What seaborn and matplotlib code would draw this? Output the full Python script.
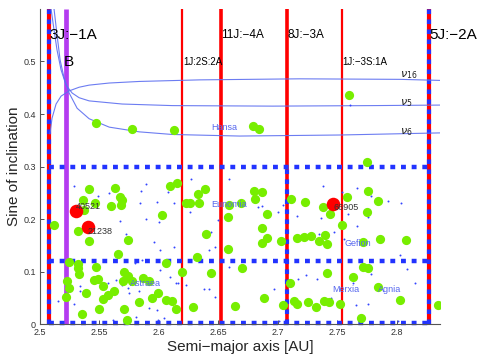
import numpy as np
import pandas as pd
import matplotlib
matplotlib.use("Agg")
import matplotlib.pyplot as plt
import seaborn as sns

sns.set_theme(style="white")
plt.rcParams['font.family'] = ['Liberation Sans', 'DejaVu Sans']

# mean motion resonances (semi-major axis, AU)
res_names = ['3J:−1A', 'B', '1J:2S:2A', '11J:−4A', '8J:−3A', '1J:−3S:1A', '5J:−2A']
res_a = [2.5073, 2.5222, 2.6197, 2.6518, 2.7077, 2.7538, 2.8272]

# sine of inclination cuts of the boxes
sini_cuts = [0.0, 0.12, 0.3]

# secular resonances
nu16_a = [2.5084, 2.5101, 2.5135, 2.5177, 2.5245, 2.5329, 2.5413, 2.5582, 2.5835, 2.6341, 2.7184, 2.8027, 2.8364]
nu16_s = [0.362, 0.392, 0.419, 0.434, 0.444, 0.451, 0.455, 0.459, 0.462, 0.465, 0.467, 0.466, 0.464]
nu5_a = [2.5093, 2.5118, 2.5143, 2.5177, 2.5219, 2.5270, 2.5329, 2.5413, 2.5691, 2.6113, 2.6956, 2.7799, 2.8364]
nu5_s = [0.600, 0.560, 0.522, 0.484, 0.455, 0.440, 0.431, 0.425, 0.419, 0.416, 0.415, 0.416, 0.417]
nu6_a = [2.5118, 2.5143, 2.5169, 2.5202, 2.5245, 2.5312, 2.5413, 2.5582, 2.5835, 2.6113, 2.6678, 2.7521, 2.8364]
nu6_s = [0.600, 0.551, 0.503, 0.469, 0.440, 0.411, 0.391, 0.375, 0.366, 0.361, 0.358, 0.360, 0.364]

# family members (green)
green_a = [2.547, 2.577, 2.613, 2.679, 2.684, 2.760, 2.775,
           2.512, 2.541, 2.563, 2.536, 2.546, 2.567, 2.569, 2.560, 2.568, 2.537, 2.532, 2.541, 2.574,
           2.603, 2.609, 2.615, 2.566, 2.639, 2.633, 2.634, 2.623, 2.626, 2.680, 2.687, 2.681, 2.659,
           2.669, 2.658, 2.691, 2.687, 2.640, 2.711, 2.723, 2.691, 2.687, 2.703, 2.716, 2.722, 2.728,
           2.658, 2.632, 2.738, 2.744, 2.758, 2.754, 2.776, 2.784, 2.775, 2.735, 2.741, 2.740, 2.772,
           2.786, 2.808,
           2.524, 2.532, 2.532, 2.547, 2.533, 2.571, 2.574, 2.545, 2.549, 2.553, 2.570, 2.577, 2.587,
           2.592, 2.606, 2.599, 2.594, 2.583, 2.606, 2.611, 2.614, 2.5225, 2.524, 2.522, 2.539, 2.562,
           2.557, 2.553, 2.550, 2.535, 2.571, 2.573, 2.619, 2.644, 2.670, 2.710, 2.688, 2.704, 2.714,
           2.716, 2.725, 2.629, 2.664, 2.741, 2.772, 2.776, 2.763, 2.784, 2.803, 2.732, 2.739, 2.743,
           2.752, 2.770, 2.835]
green_sini = [0.383, 0.372, 0.370, 0.378, 0.372, 0.437, 0.309,
              0.189, 0.258, 0.260, 0.236, 0.230, 0.241, 0.236, 0.225, 0.227, 0.217, 0.177, 0.159, 0.160,
              0.208, 0.263, 0.269, 0.133, 0.257, 0.247, 0.231, 0.231, 0.230, 0.254, 0.252, 0.238, 0.227,
              0.230, 0.203, 0.209, 0.182, 0.171, 0.239, 0.233, 0.164, 0.154, 0.159, 0.163, 0.165, 0.167,
              0.142, 0.128, 0.222, 0.209, 0.242, 0.189, 0.254, 0.235, 0.213, 0.158, 0.153, 0.169, 0.157,
              0.161, 0.160,
              0.118, 0.114, 0.106, 0.109, 0.095, 0.100, 0.091, 0.084, 0.085, 0.073, 0.081, 0.082, 0.087,
              0.081, 0.116, 0.060, 0.049, 0.042, 0.046, 0.044, 0.028, 0.081, 0.069, 0.051, 0.060, 0.063,
              0.055, 0.047, 0.028, 0.020, 0.028, 0.008, 0.100, 0.097, 0.106, 0.079, 0.049, 0.036, 0.044,
              0.038, 0.042, 0.032, 0.034, 0.098, 0.108, 0.106, 0.089, 0.070, 0.046, 0.033, 0.044, 0.041,
              0.039, 0.012, 0.036]

# background asteroids (small blue dots)
bg_a = [2.529, 2.549, 2.558, 2.589, 2.585, 2.584, 2.598, 2.613, 2.608, 2.589, 2.567, 2.600, 2.572,
        2.596, 2.613, 2.627, 2.659, 2.626, 2.650, 2.644, 2.647, 2.683, 2.687, 2.700, 2.704, 2.716,
        2.738, 2.754, 2.767, 2.778, 2.793, 2.804, 2.736, 2.767, 2.776, 2.747, 2.735, 2.756, 2.759,
        2.803, 2.809, 2.815, 2.724, 2.733, 2.717, 2.697, 2.763, 2.778, 2.745, 2.766, 2.776, 2.801,
        2.601, 2.586, 2.580, 2.601, 2.569, 2.574, 2.575, 2.583, 2.557, 2.560, 2.534, 2.534, 2.515,
        2.558, 2.529, 2.581, 2.599, 2.561, 2.592, 2.609, 2.614, 2.604, 2.659, 2.616, 2.623, 2.638,
        2.642, 2.647, 2.701, 2.564, 2.598, 2.642, 2.761]
bg_sini = [0.262, 0.244, 0.249, 0.267, 0.254, 0.231, 0.232, 0.231, 0.252, 0.200, 0.196, 0.195, 0.171,
           0.157, 0.146, 0.276, 0.276, 0.214, 0.198, 0.175, 0.147, 0.222, 0.225, 0.214, 0.227, 0.206,
           0.263, 0.252, 0.259, 0.243, 0.234, 0.231, 0.201, 0.187, 0.203, 0.176, 0.171, 0.161, 0.210,
           0.131, 0.104, 0.078, 0.093, 0.086, 0.086, 0.067, 0.078, 0.095, 0.049, 0.036, 0.038, 0.006,
           0.141, 0.121, 0.116, 0.103, 0.074, 0.069, 0.060, 0.063, 0.079, 0.065, 0.073, 0.062, 0.044,
           0.049, 0.038, 0.013, 0.008, 0.008, 0.030, 0.090, 0.078, 0.011, 0.108, 0.078, 0.074, 0.067,
           0.067, 0.051, 0.006, 0.084, 0.027, 0.141, 0.417]

# highlighted asteroids
red_ids = ['40521', '21238', '66905']
red_a = [2.5301, 2.5405, 2.7468]
red_sini = [0.216, 0.185, 0.229]

# family names
fam_names = ['Hansa', 'Eunomia', 'Astraea', 'Gefion', 'Merxia', 'Agnia']
fam_a = [2.655, 2.659, 2.589, 2.767, 2.757, 2.794]
fam_sini = [0.375, 0.227, 0.078, 0.154, 0.065, 0.065]

green_df = pd.DataFrame({'a': green_a, 'sini': green_sini})
bg_df = pd.DataFrame({'a': bg_a, 'sini': bg_sini})
red_df = pd.DataFrame({'a': red_a, 'sini': red_sini, 'id': red_ids})

fig = plt.figure(figsize=(4.85, 3.57), dpi=100)
ax = fig.add_axes([0.0825, 0.0924, 0.8247, 0.8824])

RED = '#ff0000'
BLUE = '#2233ff'
dash = (0, (1.1, 1.3))

# vertical resonance lines
widths = [3, 3.4, 1.6, 2.6, 2.6, 1.6, 3]
for name, a, w in zip(res_names, res_a, widths):
    col = '#b43cf0' if name == 'B' else RED
    ax.vlines(a, 0, 0.6, color=col, lw=w, zorder=1)
# blue dashes on box borders
ax.vlines([res_a[0], res_a[-1]], 0, 0.6, color=BLUE, lw=3, linestyles=[dash], zorder=2)
ax.vlines(res_a[4], 0, sini_cuts[-1], color=BLUE, lw=3, linestyles=[dash], zorder=2)
ax.hlines([c + 0.002 if c == 0 else c for c in sini_cuts], res_a[0], res_a[-1],
          color=BLUE, lw=3.2, linestyles=[dash], zorder=2, clip_on=False)

# secular resonances
for xs, ys in [(nu16_a, nu16_s), (nu5_a, nu5_s), (nu6_a, nu6_s)]:
    sns.lineplot(x=xs, y=ys, sort=False, estimator=None, color='#5c6ef0',
                 lw=0.8, alpha=0.9, ax=ax, zorder=3)

sns.scatterplot(data=bg_df, x='a', y='sini', s=2, color='#3344ff', linewidth=0, ax=ax, zorder=4)
sns.scatterplot(data=green_df, x='a', y='sini', s=44, color='#77ee00', linewidth=0, ax=ax, zorder=5)
sns.scatterplot(data=red_df, x='a', y='sini', s=95, color=RED, linewidth=0, ax=ax, zorder=6)

# labels of red asteroids
offs = [0.007, -0.008, -0.008]
for i, r in red_df.iterrows():
    ax.text(r['a'] - 0.0003, r['sini'] + offs[i], r['id'], fontsize=6.5, color='#333333',
            va='center', ha='left', zorder=8)

for name, a, s in zip(fam_names, fam_a, fam_sini):
    ax.text(a, s, name, fontsize=6.5, color='#5566ee', ha='center', va='center', zorder=8)

# resonance labels
big = {'3J:−1A': 11, 'B': 11, '5J:−2A': 11, '11J:−4A': 8.5, '8J:−3A': 8.5,
       '1J:2S:2A': 7, '1J:−3S:1A': 7}
for name, a in zip(res_names, res_a):
    y = 0.499 if name in ('B', '1J:2S:2A', '1J:−3S:1A') else 0.551
    dx = -0.002 if name == 'B' else 0.0005
    ax.text(a + dx, y, name, fontsize=big[name], color='black', ha='left', va='center', zorder=8)

for lab, s in [(r'$\nu_{16}$', 0.474), (r'$\nu_{5}$', 0.421), (r'$\nu_{6}$', 0.366)]:
    ax.text(2.8025, s, lab, fontsize=8, color='#222222', ha='left', va='center', zorder=8)

ax.set_xlim(2.5, 2.8364)
ax.set_ylim(0, 0.6)
ax.set_xticks([2.5, 2.55, 2.6, 2.65, 2.7, 2.75, 2.8])
ax.set_xticklabels(['2.5', '2.55', '2.6', '2.65', '2.7', '2.75', '2.8'])
ax.set_yticks([0, 0.1, 0.2, 0.3, 0.4, 0.5])
ax.set_yticklabels(['0', '0.1', '0.2', '0.3', '0.4', '0.5'])
ax.tick_params(direction='in', length=3, width=0.6, labelsize=6.5, colors='#333333',
               bottom=True, left=True, pad=3)
sns.despine(ax=ax)
for sp in ['left', 'bottom']:
    ax.spines[sp].set_color('#555555')
    ax.spines[sp].set_linewidth(0.8)
ax.set_xlabel('Semi−major axis [AU]', fontsize=11, labelpad=2)
ax.set_ylabel('Sine of inclination', fontsize=11, labelpad=2)
ax.grid(False)

fig.savefig('out.png', dpi=100)
